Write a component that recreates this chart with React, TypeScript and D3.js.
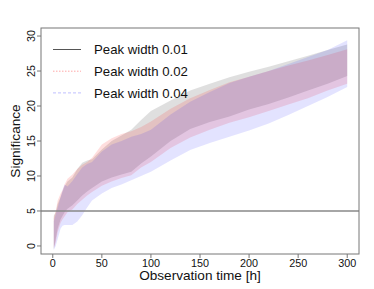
import React, { useEffect, useRef } from "react";
import * as d3 from "d3";

// observation times (h)
const times = [1, 3, 5, 8, 10, 12, 15, 20, 25, 30, 35, 40, 50, 60, 70, 80, 90, 100, 120, 140, 160, 180, 200, 220, 240, 260, 280, 300];

// peak width 0.01
const upper01 = [4.3, 4.8, 6.0, 7.0, 7.8, 8.5, 9.2, 9.8, 11.0, 11.9, 12.2, 12.4, 13.8, 15.0, 15.8, 16.6, 18.0, 19.3, 20.8, 22.2, 23.2, 24.1, 24.9, 25.6, 26.4, 27.2, 28.0, 28.8];
const lower01 = [-0.5, 1.0, 2.5, 3.8, 4.3, 4.8, 5.3, 5.8, 6.5, 7.2, 7.8, 8.3, 9.2, 9.8, 10.2, 10.6, 11.8, 12.8, 15.0, 16.7, 17.7, 18.5, 19.5, 20.3, 21.2, 22.2, 23.2, 24.3];
// peak width 0.02
const upper02 = [4.0, 5.0, 6.5, 7.5, 8.0, 8.8, 9.6, 10.2, 11.0, 11.6, 12.0, 12.6, 14.5, 15.4, 16.0, 16.4, 17.0, 17.8, 19.6, 21.1, 22.3, 23.4, 24.2, 25.0, 25.8, 26.5, 27.3, 28.1];
const lower02 = [-0.3, 0.5, 2.0, 3.3, 3.8, 4.2, 4.8, 5.2, 6.0, 6.6, 7.2, 7.7, 8.6, 9.2, 9.7, 10.1, 11.2, 12.0, 14.0, 15.5, 16.6, 17.6, 18.4, 19.3, 20.2, 21.1, 22.2, 23.2];
// peak width 0.04
const upper04 = [3.5, 4.5, 5.5, 7.0, 8.0, 8.8, 8.5, 9.3, 10.3, 11.2, 11.7, 12.0, 13.5, 14.5, 15.0, 15.6, 16.0, 16.6, 18.8, 20.6, 22.0, 23.3, 24.2, 25.0, 26.0, 27.0, 28.0, 29.4];
const lower04 = [-0.6, 0.0, 1.0, 2.5, 2.9, 3.0, 3.0, 3.0, 3.5, 4.4, 5.5, 6.5, 7.5, 8.3, 8.8, 9.4, 10.0, 10.6, 12.2, 13.7, 14.7, 15.6, 16.5, 17.5, 18.7, 20.0, 21.3, 22.7];

const legendLabels = ["Peak width 0.01", "Peak width 0.02", "Peak width 0.04"];
const xTicks = [0, 50, 100, 150, 200, 250, 300];
const yTicks = [0, 5, 10, 15, 20, 25, 30];
const threshold = 5;

export default function App() {
  const ref = useRef<SVGSVGElement>(null);

  useEffect(() => {
    const svg = d3.select(ref.current);
    svg.selectAll("*").remove();

    const left = 41, right = 359, top = 28, bottom = 254;
    const x = d3.scaleLinear().domain([-12, 312]).range([left, right]);
    const y = d3.scaleLinear().domain([-1.15, 31.15]).range([bottom, top]);
    const font = "Liberation Sans, Arial, sans-serif";

    const series = [
      { up: upper01, lo: lower01, fill: "rgba(128,128,128,0.25)", stroke: "#555", dash: null },
      { up: upper02, lo: lower02, fill: "rgba(255,0,0,0.13)", stroke: "rgba(255,0,0,0.35)", dash: "1.5,1.5" },
      { up: upper04, lo: lower04, fill: "rgba(0,0,255,0.11)", stroke: "rgba(0,0,255,0.25)", dash: "3,2" },
    ];

    series.forEach((s) => {
      const area = d3.area<number>()
        .x((d, i) => x(times[i]))
        .y0((d, i) => y(s.lo[i]))
        .y1((d) => y(d));
      svg.append("path").attr("d", area(s.up)).attr("fill", s.fill);
    });

    // threshold line
    svg.append("line")
      .attr("x1", left).attr("x2", right)
      .attr("y1", y(threshold)).attr("y2", y(threshold))
      .attr("stroke", "#888").attr("stroke-width", 1.4);

    // box
    svg.append("rect")
      .attr("x", left).attr("y", top)
      .attr("width", right - left).attr("height", bottom - top)
      .attr("fill", "none").attr("stroke", "#777").attr("stroke-width", 1);

    // x axis
    const xa = svg.append("g");
    xTicks.forEach((t) => {
      xa.append("line").attr("x1", x(t)).attr("x2", x(t)).attr("y1", bottom).attr("y2", bottom + 4)
        .attr("stroke", "#777");
      xa.append("text").attr("x", x(t)).attr("y", 267).attr("text-anchor", "middle")
        .attr("font-family", font).attr("font-size", 10.8).attr("fill", "#111").text(t);
    });

    // y axis
    const ya = svg.append("g");
    yTicks.forEach((t) => {
      ya.append("line").attr("x1", left - 4).attr("x2", left).attr("y1", y(t)).attr("y2", y(t))
        .attr("stroke", "#777");
      ya.append("text")
        .attr("transform", `translate(35,${y(t)}) rotate(-90)`)
        .attr("text-anchor", "middle")
        .attr("font-family", font).attr("font-size", 10.8).attr("fill", "#111").text(t);
    });

    svg.append("text").attr("x", (left + right) / 2).attr("y", 279.5).attr("text-anchor", "middle")
      .attr("font-family", font).attr("font-size", 13.6).attr("fill", "#111").text("Observation time [h]");
    svg.append("text")
      .attr("transform", `translate(20,${(top + bottom) / 2}) rotate(-90)`)
      .attr("text-anchor", "middle")
      .attr("font-family", font).attr("font-size", 13.6).attr("fill", "#111").text("Significance");

    // legend
    const lg = svg.append("g");
    legendLabels.forEach((lab, i) => {
      const ly = 49.5 + i * 21.7;
      const s = series[i];
      const ln = lg.append("line").attr("x1", 53).attr("x2", 81).attr("y1", ly).attr("y2", ly)
        .attr("stroke", s.stroke).attr("stroke-width", 1);
      if (s.dash) ln.attr("stroke-dasharray", s.dash);
      lg.append("text").attr("x", 94).attr("y", ly + 4.7)
        .attr("font-family", font).attr("font-size", 13.2).attr("fill", "#111").text(lab);
    });
  }, []);

  return (
    <svg ref={ref} width={374} height={289}
      style={{ position: "absolute", left: 0, top: 0, background: "#fff" }} />
  );
}
